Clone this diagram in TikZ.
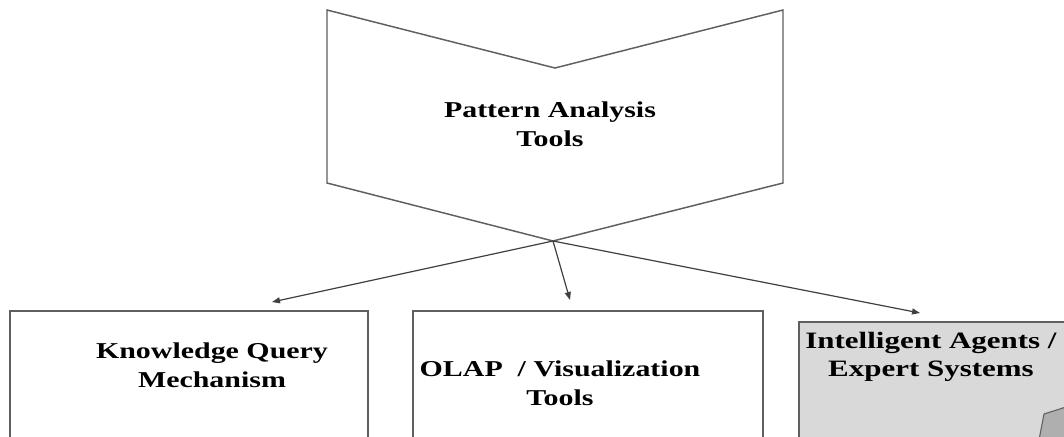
\documentclass[tikz,border=0pt]{standalone}
\usepackage{fontspec}
\setmainfont{Liberation Serif}
\newfontfamily\lblfont[FakeStretch=1.32]{Liberation Serif}
\usetikzlibrary{arrows.meta}
\definecolor{edgegray}{RGB}{95,95,95}
\definecolor{boxgray}{RGB}{217,217,217}
\definecolor{flapgray}{RGB}{175,175,175}
\tikzset{
  shapeline/.style={draw=edgegray, line width=1.1pt},
  lbl/.style={align=center, inner sep=0pt, font=\lblfont\bfseries\fontsize{17}{21.5}\selectfont},
  arr/.style={draw=black!75, line width=0.9pt, -{Triangle[length=6pt,width=4.5pt]}},
}
\begin{document}
\begin{tikzpicture}[x=0.75pt,y=-0.75pt]
\clip (0,0) rectangle (1064,436);
\fill[white] (0,0) rectangle (1064,436);
% chevron
\draw[shapeline, line join=miter] (327,10) -- (555,68) -- (783,10) -- (783,183) -- (553,241) -- (327,183) -- cycle;
\coordinate (tip) at (553,241);
\node[lbl] (pat) at (550,124) {Pattern Analysis\\Tools};
% boxes
\draw[shapeline] (10,470) -- (10,311) -- (368,311) -- (368,470);
\draw[shapeline] (413,470) -- (413,311) -- (763,311) -- (763,470);
\draw[shapeline, fill=boxgray] (799,470) -- (799,322) -- (1080,322) -- (1080,470);
\coordinate (kin) at (272,302);
\coordinate (oin) at (570,300);
\coordinate (iin) at (920,313);
\node[lbl] (kqm) at (212,365) {Knowledge Query\\Mechanism};
\node[lbl] (olap) at (560,383) {OLAP\ \ / Visualization\\Tools};
\node[lbl, font=\lblfont\bfseries\fontsize{17.6}{21.5}\selectfont] (iae) at (931,357) {Intelligent Agents /\\Expert Systems};
% folded corner
\filldraw[draw=edgegray, fill=flapgray, line width=0.8pt] (1039,440) -- (1044,414) -- (1066,407) -- (1066,440) -- cycle;
% arrows
\draw[arr] (tip) -- (kin);
\draw[arr] (tip) -- (oin);
\draw[arr] (tip) -- (iin);
\end{tikzpicture}
\end{document}
